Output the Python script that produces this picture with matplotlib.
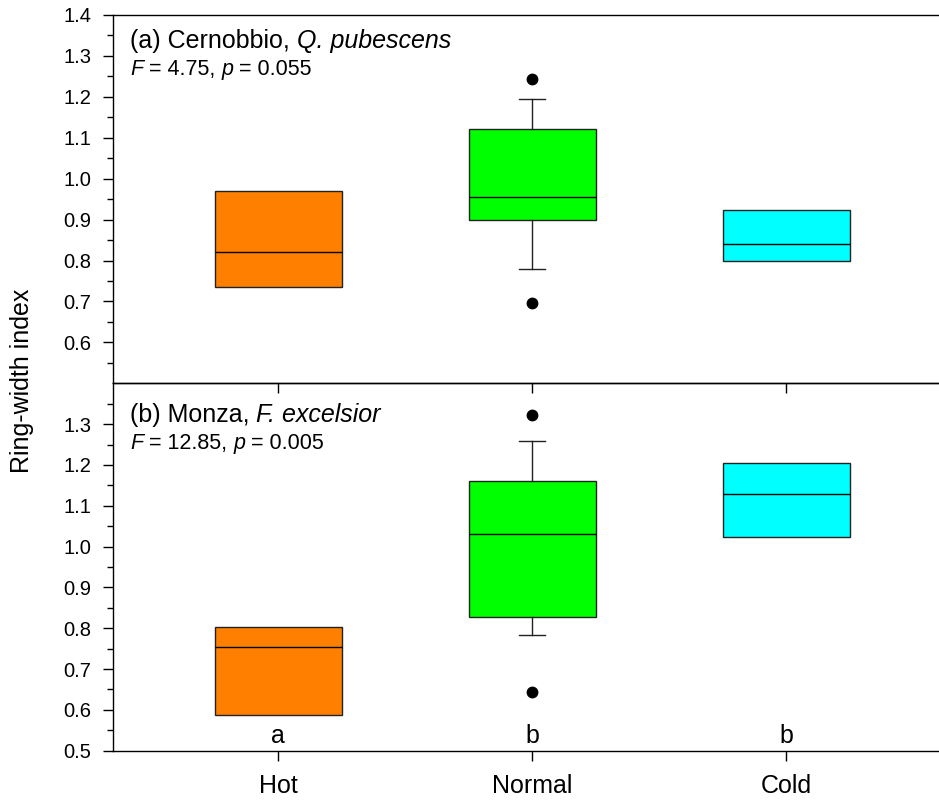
import matplotlib
matplotlib.use("Agg")
import matplotlib.pyplot as plt
from matplotlib.ticker import FixedLocator
from matplotlib.transforms import offset_copy

plt.rcParams["font.family"] = ["Liberation Sans", "DejaVu Sans"]

# Temperature classes
categories = ["Hot", "Normal", "Cold"]
box_colors = ["#FF8000", "#00FF00", "#00FFFF"]

# (a) Cernobbio, Q. pubescens
a_q1 = [0.735, 0.898, 0.800]
a_med = [0.821, 0.956, 0.840]
a_q3 = [0.971, 1.122, 0.924]
a_whislo = [None, 0.779, None]
a_whishi = [None, 1.194, None]
a_fliers = [[], [0.696, 1.243], []]

# (b) Monza, F. excelsior
b_q1 = [0.588, 0.827, 1.024]
b_med = [0.755, 1.032, 1.128]
b_q3 = [0.803, 1.160, 1.204]
b_whislo = [None, 0.783, None]
b_whishi = [None, 1.258, None]
b_fliers = [[], [0.644, 1.322], []]

# Post-hoc group letters (panel b)
b_letters = ["a", "b", "b"]

# Panel headings as (text, italic) runs
a_title = [("(a) Cernobbio, ", False), ("Q. pubescens", True)]
a_stats = [("F", True), (" = 4.75, ", False), ("p", True), (" = 0.055", False)]
b_title = [("(b) Monza, ", False), ("F. excelsior", True)]
b_stats = [("F", True), (" = 12.85, ", False), ("p", True), (" = 0.005", False)]

fig = plt.figure(figsize=(9.39, 8.0), dpi=100)
left = 113 / 939
width = 1 - left
ax_a = fig.add_axes([left, 0.5209, width, 0.4604])
ax_b = fig.add_axes([left, 0.0616, width, 0.4593])
ax_a.set_zorder(2)
for ax in (ax_a, ax_b):
    ax.patch.set_visible(False)

edge = "#222222"


def draw_panel(ax, q1, med, q3, wlo, whi, fl):
    stats = []
    for i in range(len(categories)):
        stats.append(dict(
            q1=q1[i], med=med[i], q3=q3[i],
            whislo=wlo[i] if wlo[i] is not None else q1[i],
            whishi=whi[i] if whi[i] is not None else q3[i],
            fliers=fl[i], label=categories[i]))
    pos = list(range(len(categories)))
    res = ax.bxp(stats, positions=pos, widths=0.5, patch_artist=True,
                 showcaps=True, showfliers=True, capwidths=0.1,
                 boxprops=dict(edgecolor=edge, linewidth=1.0),
                 medianprops=dict(color="black", linewidth=1.0),
                 whiskerprops=dict(color=edge, linewidth=1.0),
                 capprops=dict(color=edge, linewidth=1.0),
                 flierprops=dict(marker="o", markerfacecolor="black",
                                 markeredgecolor="black", markersize=7.5))
    for patch, c in zip(res["boxes"], box_colors):
        patch.set_facecolor(c)
    for i in range(len(categories)):
        if wlo[i] is None:
            res["caps"][2 * i].set_visible(False)
            res["whiskers"][2 * i].set_visible(False)
        if whi[i] is None:
            res["caps"][2 * i + 1].set_visible(False)
            res["whiskers"][2 * i + 1].set_visible(False)
    ax.set_xlim(-0.65, 2.602)
    ax.set_ylim(0.5, 1.4)
    ax.set_xticks(pos)
    ax.spines["right"].set_visible(False)
    for s in ax.spines.values():
        s.set_linewidth(1.0)
    ax.yaxis.set_minor_locator(FixedLocator([0.55 + 0.1 * k for k in range(9)]))
    ax.tick_params(axis="y", which="major", direction="out", length=7.5,
                   width=1.0, labelsize=14.5, pad=8)
    ax.tick_params(axis="y", which="minor", direction="out", length=4,
                   width=1.0)
    ax.tick_params(axis="x", which="major", direction="out", length=7.5,
                   width=1.0, labelsize=18, pad=9)


draw_panel(ax_a, a_q1, a_med, a_q3, a_whislo, a_whishi, a_fliers)
draw_panel(ax_b, b_q1, b_med, b_q3, b_whislo, b_whishi, b_fliers)

ax_a.set_yticks([0.6, 0.7, 0.8, 0.9, 1.0, 1.1, 1.2, 1.3, 1.4])
ax_a.set_yticklabels([f"{v:.1f}" for v in ax_a.get_yticks()])
ax_a.set_xticklabels([])
ax_b.set_yticks([0.5, 0.6, 0.7, 0.8, 0.9, 1.0, 1.1, 1.2, 1.3])
ax_b.set_yticklabels([f"{v:.1f}" for v in ax_b.get_yticks()])
ax_b.set_xticklabels(categories)

renderer = fig.canvas.get_renderer()


def rich_text(ax, x, y, runs, size):
    """Write a line of mixed upright/italic runs, left to right."""
    dx = 0.0
    for s, italic in runs:
        tr = offset_copy(ax.transAxes, fig=fig, x=dx, y=0, units="dots")
        t = ax.text(x, y, s, transform=tr, fontsize=size, ha="left",
                    va="baseline", style="italic" if italic else "normal")
        t.set_text(s.replace(" ", "\u00a0"))
        dx += t.get_window_extent(renderer).width


tx = (130 - 113) / 826
rich_text(ax_a, tx, 0.911, a_title, 18)
rich_text(ax_a, tx, 0.837, a_stats, 15.5)
rich_text(ax_b, tx, 0.894, b_title, 18)
rich_text(ax_b, tx, 0.820, b_stats, 15.5)

for i, letter in enumerate(b_letters):
    ax_b.text(i, 0.518, letter, fontsize=18, ha="center", va="baseline")

fig.text(22 / 939, (800 - 381) / 800, "Ring-width index", rotation=90,
         fontsize=18, ha="center", va="center")

fig.savefig("out.png", dpi=100)
